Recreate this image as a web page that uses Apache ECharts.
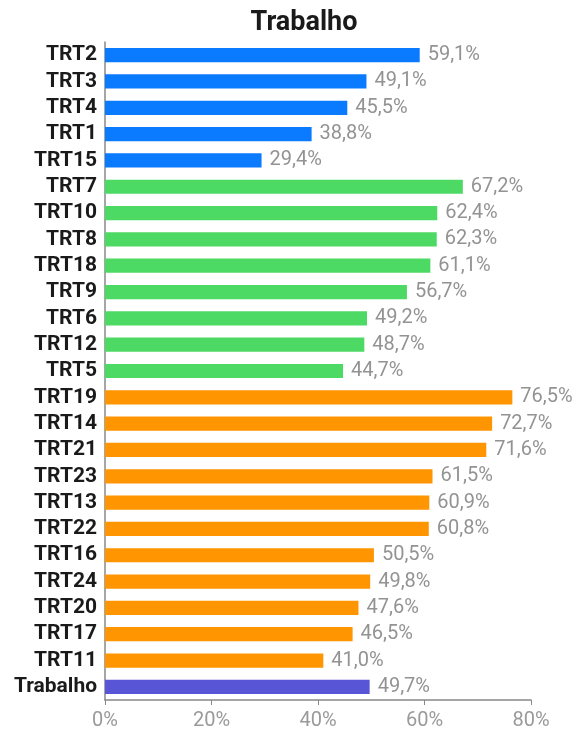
<!DOCTYPE html>
<html><head><meta charset="utf-8">
<script src="https://cdn.jsdelivr.net/npm/echarts@6/dist/echarts.min.js"></script>
<style>html,body{margin:0;padding:0;background:#fff}#c{width:582px;height:731px}</style>
</head><body><div id="c"></div>
<script>
const categories = ['TRT2','TRT3','TRT4','TRT1','TRT15','TRT7','TRT10','TRT8','TRT18','TRT9','TRT6','TRT12','TRT5','TRT19','TRT14','TRT21','TRT23','TRT13','TRT22','TRT16','TRT24','TRT20','TRT17','TRT11','Trabalho'];
const values = [59.1,49.1,45.5,38.8,29.4,67.2,62.4,62.3,61.1,56.7,49.2,48.7,44.7,76.5,72.7,71.6,61.5,60.9,60.8,50.5,49.8,47.6,46.5,41.0,49.7];
const groups = ['g','g','g','g','g','m','m','m','m','m','m','m','m','p','p','p','p','p','p','p','p','p','p','p','t'];
const groupColors = {g:'#0a7aff', m:'#4cd964', p:'#ff9500', t:'#5856d6'};
const xTicks = [0,20,40,60,80];

const chart = echarts.init(document.getElementById('c'));
chart.setOption({
  animation:false,
  title:{text:'Trabalho', left:299, textAlign:'center', top:5, textStyle:{fontFamily:'Roboto', fontWeight:'bold', fontSize:27, color:'#1a1a1a'}},
  grid:{left:105, right:51, top:42, bottom:31},
  xAxis:{type:'value', min:xTicks[0], max:xTicks[xTicks.length-1], interval:20,
    axisLine:{show:true, lineStyle:{color:'#888', width:1.5}},
    axisTick:{show:true, length:5, lineStyle:{color:'#888'}},
    splitLine:{show:false},
    axisLabel:{formatter:v=>v+'%', color:'#9a9a9a', fontFamily:'Roboto', fontSize:20, margin:11}},
  yAxis:{type:'category', inverse:true, data:categories,
    axisLine:{show:true, lineStyle:{color:'#888', width:1.5}},
    axisTick:{show:false},
    axisLabel:{interval:0, color:'#1a1a1a', fontFamily:'Roboto', fontWeight:'bold', fontSize:21, margin:8}},
  series:[{type:'bar', barCategoryGap:'46%',
    data: values.map((v,i)=>({value:v, itemStyle:{color:groupColors[groups[i]]}})),
    label:{show:true, position:'right', distance:8, color:'#939393', fontFamily:'Roboto', fontSize:20,
      formatter:p=>p.value.toFixed(1).replace('.',',')+'%'}}]
});
</script></body></html>
